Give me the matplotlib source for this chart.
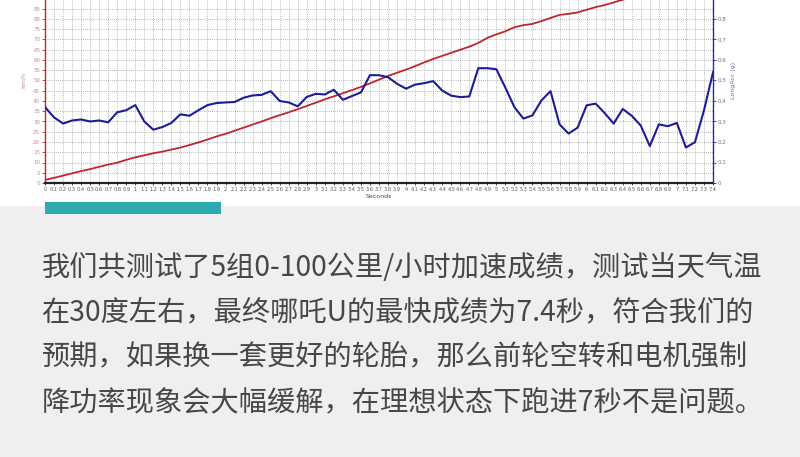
import numpy as np
import matplotlib
matplotlib.use("Agg")
import matplotlib.pyplot as plt
from matplotlib.patches import Rectangle

plt.rcParams['font.family'] = ['DejaVu Sans']

# time axis, 0.1 s steps
seconds = [round(i * 0.1, 1) for i in range(75)]

# vehicle speed, km/h (values above ~89 are outside the visible crop)
speed_kmh = [
    1.5, 2.5, 3.6, 4.7, 5.8, 6.8, 7.9, 9.0, 9.9, 11.3,
    12.5, 13.5, 14.5, 15.3, 16.3, 17.3, 18.5, 19.8, 21.2, 22.7,
    24.0, 25.5, 27.0, 28.5, 30.0, 31.6, 33.1, 34.5, 36.0, 37.6,
    39.2, 40.8, 42.3, 43.8, 45.3, 46.9, 48.6, 50.4, 52.2, 53.8,
    55.3, 57.0, 58.8, 60.5, 62.0, 63.5, 65.0, 66.5, 68.3, 70.8,
    72.5, 74.0, 76.0, 77.0, 77.6, 79.0, 80.5, 82.0, 82.5, 83.2,
    84.5, 85.8, 86.8, 88.1, 89.4, 90.6, 91.8, 92.8, 93.9, 95.0,
    96.0, 97.0, 98.0, 99.0, 100.0,
]

# longitudinal acceleration, g
long_acc = [
    0.37, 0.32, 0.29, 0.305, 0.31, 0.30, 0.305, 0.296, 0.345, 0.355,
    0.38, 0.30, 0.26, 0.273, 0.293, 0.335, 0.328, 0.355, 0.38, 0.39,
    0.393, 0.395, 0.416, 0.427, 0.43, 0.448, 0.40, 0.393, 0.374, 0.42,
    0.435, 0.432, 0.455, 0.406, 0.424, 0.442, 0.526, 0.526, 0.516, 0.484,
    0.46, 0.48, 0.487, 0.497, 0.451, 0.426, 0.419, 0.422, 0.56, 0.56,
    0.555, 0.465, 0.37, 0.314, 0.33, 0.403, 0.448, 0.286, 0.241, 0.27,
    0.379, 0.387, 0.341, 0.29, 0.361, 0.328, 0.28, 0.18, 0.286, 0.277,
    0.293, 0.173, 0.199, 0.354, 0.54,
]

left_ticks = list(range(0, 90, 5))
right_ticks = [0, 0.1, 0.2, 0.3, 0.4, 0.5, 0.6, 0.7, 0.8]

paragraph = [
    "我们共测试了5组0-100公里/小时加速成绩，测试当天气温",
    "在30度左右，最终哪吒U的最快成绩为7.4秒，符合我们的",
    "预期，如果换一套更好的轮胎，那么前轮空转和电机强制",
    "降功率现象会大幅缓解，在理想状态下跑进7秒不是问题。",
]

W, H = 800, 457
fig = plt.figure(figsize=(W / 100, H / 100), dpi=100)
fig.patch.set_facecolor("#efefef")
fig.patches.append(Rectangle((0, (H - 206) / H), 1, 206 / H,
                             transform=fig.transFigure, facecolor="white",
                             edgecolor="none", zorder=-10))
fig.patches.append(Rectangle((45 / W, (H - 214) / H), 176 / W, 12 / H,
                             transform=fig.transFigure, facecolor="#2fa9b0",
                             edgecolor="none", zorder=1))

# axes: bottom at y=183px, 100 km/h ~ 205 px tall (top cropped by figure)
x0, x1 = 45 / W, 713 / W
y0 = (H - 183) / H
ax = fig.add_axes([x0, y0, x1 - x0, 205 / H])
ax.set_xlim(0, 7.4)
ax.set_ylim(0, 100)

ax.set_xticks(seconds)
ax.set_xticklabels([f"{s:g}" for s in seconds], fontsize=3.6, color="#555555")
ax.set_yticks(left_ticks)
ax.set_yticklabels([str(v) for v in left_ticks], fontsize=4, color="#c98a8f")
ax.tick_params(axis="x", length=1.5, pad=1.5, width=0.5)
ax.tick_params(axis="y", length=2, pad=1.5, width=0.6, color="#c0262d")
ax.grid(True, color="#a0a0a0", linestyle=(0, (1, 1.5)), linewidth=0.6)
ax.set_axisbelow(True)

for side in ("top", "right"):
    ax.spines[side].set_visible(False)
ax.spines["left"].set_color("#c0262d")
ax.spines["left"].set_linewidth(1.0)
ax.spines["bottom"].set_color("#222222")
ax.spines["bottom"].set_linewidth(1.6)

ax.set_xlabel("Seconds", fontsize=4.5, color="#444444", labelpad=1)
ax.set_ylabel("km/h", fontsize=4.5, color="#c98a8f", labelpad=5)

ax.plot(seconds, speed_kmh, color="#c0262d", linewidth=1.3, zorder=3)

ax2 = ax.twinx()
ax2.set_ylim(0, 1.0)
ax2.set_yticks(right_ticks)
ax2.set_yticklabels([f"{v:g}" for v in right_ticks], fontsize=4, color="#6a6f9a")
ax2.tick_params(axis="y", length=2, pad=1.5, width=0.6, color="#2a2a9a")
for side in ("top", "left", "bottom"):
    ax2.spines[side].set_visible(False)
ax2.spines["right"].set_color("#2a2a9a")
ax2.spines["right"].set_linewidth(1.0)
ax2.set_ylabel("LongAcc (g)", fontsize=4.5, color="#6a6f9a", labelpad=3)
ax2.plot(seconds, long_acc, color="#1c1c96", linewidth=1.5, zorder=3)

# article text below the chart
line_y = [268, 312, 357, 402]
for txt, yp in zip(paragraph, line_y):
    fig.text(42 / W, (H - yp) / H, txt, fontsize=20.3, color="#474747",
             va="center", ha="left", fontweight="light",
             family=["Noto Sans CJK SC", "DejaVu Sans"])

fig.savefig("out.png", dpi=100)
